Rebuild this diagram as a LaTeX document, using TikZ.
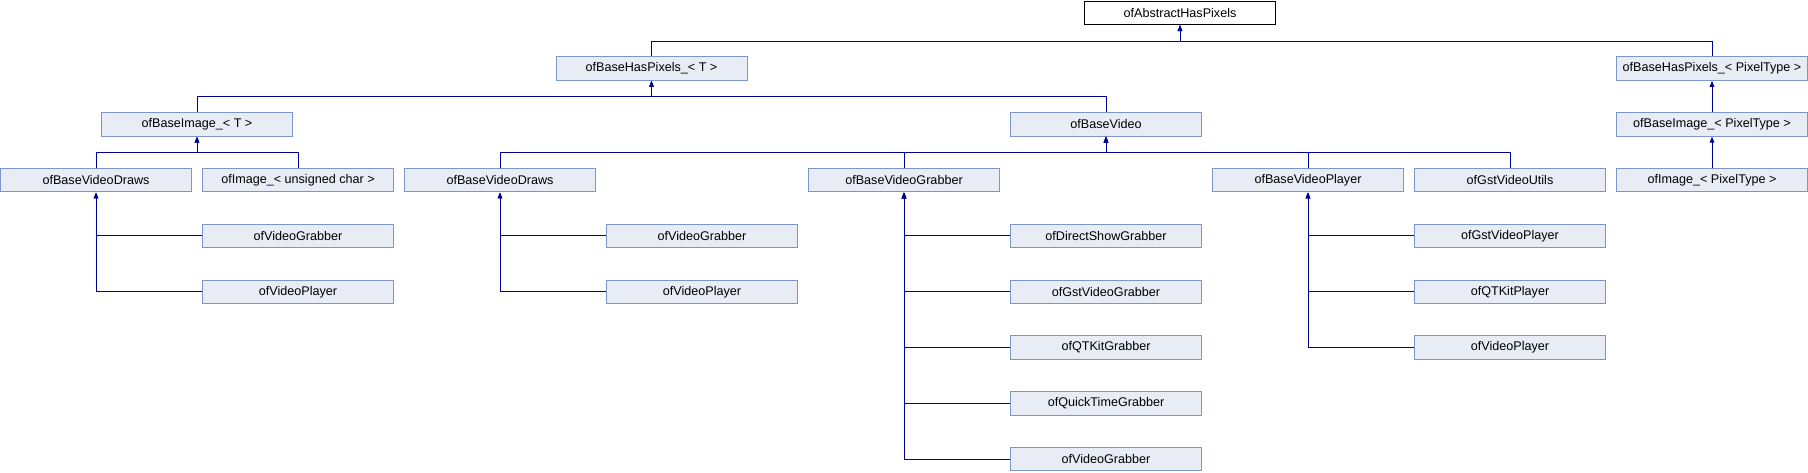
\documentclass[tikz,border=0pt]{standalone}
\usepackage{fontspec}
\setmainfont{Liberation Sans}
\usetikzlibrary{arrows.meta}
\definecolor{boxfill}{RGB}{232,236,245}
\definecolor{boxline}{RGB}{124,150,204}
\definecolor{linkcol}{RGB}{0,0,150}
\begin{document}
\begin{tikzpicture}[x=1pt,y=-1pt,
  cls/.style={draw=boxline, fill=boxfill, line width=1pt, minimum width=191pt, minimum height=23.5pt, anchor=north west, inner sep=0pt, font=\fontsize{12.6}{14}\selectfont},
  rootcls/.style={cls, draw=black, fill=white},
  link/.style={draw=linkcol, line width=1pt, -{Triangle[length=6pt,width=4.5pt]}}]
\useasboundingbox (0,0) rectangle (1808,472);
% row 0
\node[rootcls] (abs) at (1084,0.5) {ofAbstractHasPixels};
% row 1
\node[cls] (bhpT) at (555.5,56.3) {ofBaseHasPixels\_< T >};
\node[cls] (bhpP) at (1616,56.3) {ofBaseHasPixels\_< PixelType >};
% row 2
\node[cls] (biT) at (101,112.1) {ofBaseImage\_< T >};
\node[cls] (bv) at (1010,112.1) {ofBaseVideo};
\node[cls] (biP) at (1616,112.1) {ofBaseImage\_< PixelType >};
% row 3
\node[cls] (bvdA) at (0,167.9) {ofBaseVideoDraws};
\node[cls] (imgUC) at (202,167.9) {ofImage\_< unsigned char >};
\node[cls] (bvdB) at (404,167.9) {ofBaseVideoDraws};
\node[cls] (bvg) at (808,167.9) {ofBaseVideoGrabber};
\node[cls] (bvp) at (1212,167.9) {ofBaseVideoPlayer};
\node[cls] (gvu) at (1414,167.9) {ofGstVideoUtils};
\node[cls] (imgP) at (1616,167.9) {ofImage\_< PixelType >};
% row 4
\node[cls] (vgA) at (202,223.7) {ofVideoGrabber};
\node[cls] (vgB) at (606,223.7) {ofVideoGrabber};
\node[cls] (dsg) at (1010,223.7) {ofDirectShowGrabber};
\node[cls] (gvp) at (1414,223.7) {ofGstVideoPlayer};
% row 5
\node[cls] (vpA) at (202,279.5) {ofVideoPlayer};
\node[cls] (vpB) at (606,279.5) {ofVideoPlayer};
\node[cls] (gvg) at (1010,279.5) {ofGstVideoGrabber};
\node[cls] (qtp) at (1414,279.5) {ofQTKitPlayer};
% row 6
\node[cls] (qtg) at (1010,335.3) {ofQTKitGrabber};
\node[cls] (vpC) at (1414,335.3) {ofVideoPlayer};
% row 7
\node[cls] (qtime) at (1010,391.1) {ofQuickTimeGrabber};
% row 8
\node[cls] (vgC) at (1010,446.9) {ofVideoGrabber};

% bus coordinates
\coordinate (busAbs) at ([yshift=-16pt]abs.south);
\coordinate (busBhpT) at ([yshift=-16pt]bhpT.south);
\coordinate (busBiT) at ([yshift=-16pt]biT.south);
\coordinate (busBv) at ([yshift=-16pt]bv.south);

% connectors
\draw[link] (bhpT.north) |- (busAbs) -- (abs.south);
\draw[link] (bhpP.north) |- (busAbs) -- (abs.south);
\draw[link] (biT.north) |- (busBhpT) -- (bhpT.south);
\draw[link] (bv.north) |- (busBhpT) -- (bhpT.south);
\draw[link] (biP.north) -- (bhpP.south);
\draw[link] (imgP.north) -- (biP.south);
\draw[link] (bvdA.north) |- (busBiT) -- (biT.south);
\draw[link] (imgUC.north) |- (busBiT) -- (biT.south);
\draw[link] (bvdB.north) |- (busBv) -- (bv.south);
\draw[link] (bvg.north) |- (busBv) -- (bv.south);
\draw[link] (bvp.north) |- (busBv) -- (bv.south);
\draw[link] (gvu.north) |- (busBv) -- (bv.south);
\draw[link] (vgA.west) -| (bvdA.south);
\draw[link] (vpA.west) -| (bvdA.south);
\draw[link] (vgB.west) -| (bvdB.south);
\draw[link] (vpB.west) -| (bvdB.south);
\draw[link] (dsg.west) -| (bvg.south);
\draw[link] (gvg.west) -| (bvg.south);
\draw[link] (qtg.west) -| (bvg.south);
\draw[link] (qtime.west) -| (bvg.south);
\draw[link] (vgC.west) -| (bvg.south);
\draw[link] (gvp.west) -| (bvp.south);
\draw[link] (qtp.west) -| (bvp.south);
\draw[link] (vpC.west) -| (bvp.south);
\end{tikzpicture}
\end{document}
